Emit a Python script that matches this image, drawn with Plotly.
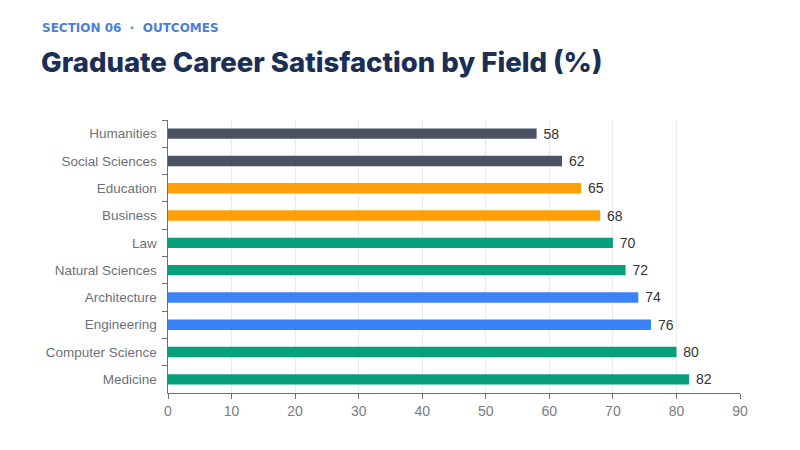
import plotly.graph_objects as go

# data, top to bottom
fields = ['Humanities', 'Social Sciences', 'Education', 'Business', 'Law',
          'Natural Sciences', 'Architecture', 'Engineering', 'Computer Science', 'Medicine']
satisfaction = [58, 62, 65, 68, 70, 72, 74, 76, 80, 82]
groups = ['slate', 'slate', 'amber', 'amber', 'green',
          'green', 'blue', 'blue', 'green', 'green']

palette = {'slate': '#4b5263', 'amber': '#ff9f0a', 'green': '#07a07c', 'blue': '#3b82f6'}
bar_colors = [palette[g] for g in groups]

# the page adds an 8px body margin, so everything is placed 8px up/left
L, R, T, B = 160, 68, 112, 65
plot_w = 800 - L - R

fig = go.Figure()
fig.add_trace(go.Bar(
    x=satisfaction,
    y=fields,
    orientation='h',
    marker=dict(color=bar_colors, line=dict(width=0)),
    text=satisfaction,
    texttemplate=' %{x}',
    textposition='outside',
    constraintext='none',
    textfont=dict(family='Liberation Sans, Arial', size=14, color='#333333'),
    cliponaxis=False,
    width=0.38,
))

fig.update_layout(
    width=800, height=450,
    margin=dict(l=L, r=R, t=T, b=B),
    paper_bgcolor='white',
    plot_bgcolor='white',
    showlegend=False,
    font=dict(family='Liberation Sans, Arial', size=13, color='#6e7079'),
    xaxis=dict(
        range=[0, 90], dtick=10,
        showgrid=True, gridcolor='#e9e9ee', gridwidth=1,
        showline=True, linecolor='#6e7079', linewidth=1,
        ticks='outside', ticklen=5, tickcolor='#6e7079',
        zeroline=False,
        tickfont=dict(size=14, color='#7a7c85'),
    ),
    yaxis=dict(
        type='category', autorange='reversed',
        showgrid=False,
        showline=True, linecolor='#6e7079', linewidth=1,
        ticks='outside', ticklen=5, tickcolor='#6e7079',
        tickson='boundaries',
        ticksuffix='  ',
        tickfont=dict(size=13.5, color='#6e7079'),
    ),
    annotations=[
        dict(text='SECTION 06  ·  OUTCOMES', xref='paper', yref='paper',
             x=(32 - L) / plot_w, y=1, yshift=T - 20, xanchor='left', yanchor='middle',
             showarrow=False,
             font=dict(family='DejaVu Sans', size=12, color='#4a7fd4', weight=700)),
        dict(text='Graduate Career Satisfaction by Field (%)', xref='paper', yref='paper',
             x=(31 - L) / plot_w, y=1, yshift=T - 54, xanchor='left', yanchor='middle',
             showarrow=False,
             font=dict(family='Inter, Open Sans', size=27.5, color='#1b2f55', weight=800)),
    ],
)

fig.write_html("out.html")
